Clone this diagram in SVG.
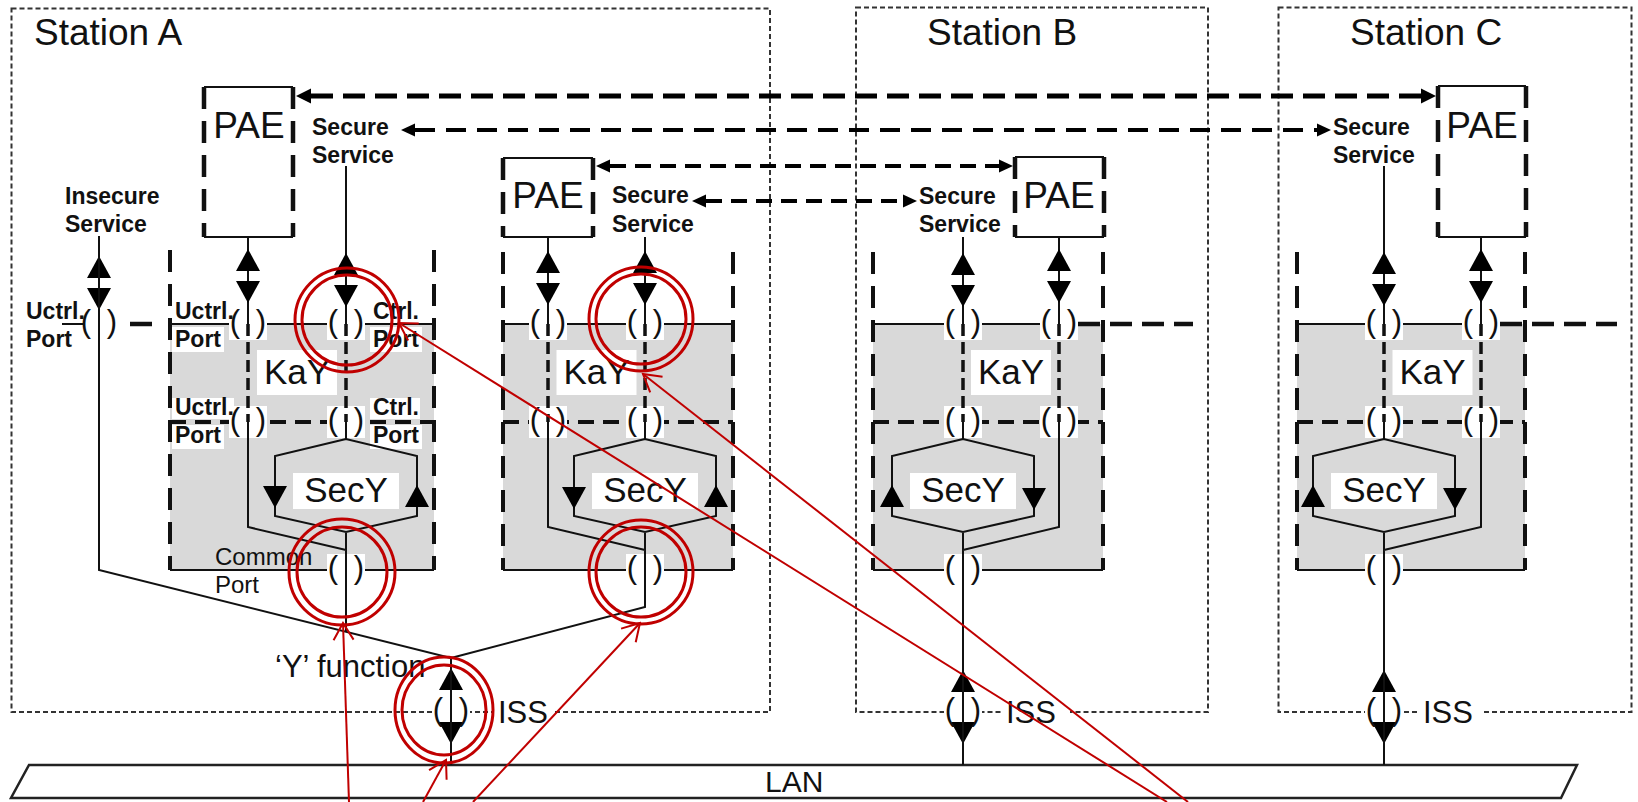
<svg xmlns="http://www.w3.org/2000/svg" xmlns:xlink="http://www.w3.org/1999/xlink" width="1638" height="802" viewBox="0 0 1638 802">
<style>
text{font-family:"Liberation Sans",Arial,sans-serif;fill:#111}
.stn{fill:none;stroke:#333;stroke-width:2;stroke-dasharray:5 3}
.gray{fill:#d9d9d9}
.kb{fill:none;stroke:#111;stroke-width:4;stroke-dasharray:22 12}
.th{fill:none;stroke:#111;stroke-width:2}
.rowd{fill:none;stroke:#111;stroke-width:4;stroke-dasharray:16 9}
.vd{fill:none;stroke:#111;stroke-width:3.5;stroke-dasharray:12 6}
.ps{fill:none;stroke:#111;stroke-width:4.5;stroke-dasharray:22 12}
.od{fill:none;stroke:#111;stroke-width:4.5;stroke-dasharray:22 10}
.wb{fill:#fff}
.big{font-size:37px}
.mid{font-size:35px}
.svc{font-size:23px;font-weight:bold}
.reg{font-size:24px}
.iss{font-size:31px}
.c1{fill:none;stroke:#000;stroke-width:5;stroke-dasharray:22 10;marker-start:url(#fa);marker-end:url(#fa)}
.c2{fill:none;stroke:#000;stroke-width:4;stroke-dasharray:20 11;marker-start:url(#fb);marker-end:url(#fb)}
.c3{fill:none;stroke:#000;stroke-width:4;stroke-dasharray:16 9;marker-start:url(#fb);marker-end:url(#fb)}
.rc{fill:none;stroke:#c00000;stroke-width:3}
.rl{fill:none;stroke:#c00000;stroke-width:2;marker-end:url(#ra)}
</style>
<defs>
<marker id="fa" viewBox="0 -8 16 16" refX="0" refY="0" markerWidth="16" markerHeight="16" markerUnits="userSpaceOnUse" orient="auto-start-reverse"><path d="M0,-7.5 L15,0 L0,7.5 Z" fill="#000"/></marker>
<marker id="fb" viewBox="0 -8 16 16" refX="0" refY="0" markerWidth="16" markerHeight="16" markerUnits="userSpaceOnUse" orient="auto-start-reverse"><path d="M0,-6.5 L14,0 L0,6.5 Z" fill="#000"/></marker>
<marker id="ra" viewBox="-20 -12 22 24" refX="0" refY="0" markerWidth="22" markerHeight="24" markerUnits="userSpaceOnUse" orient="auto"><path d="M-17,-10 L0,0 L-17,10" fill="none" stroke="#c00000" stroke-width="2"/></marker>
<path id="tu" d="M0,0 L-12,22 L12,22 Z" fill="#000"/>
<path id="td" d="M-12,0 L12,0 L0,22 Z" fill="#000"/>
<g id="dbl"><use href="#tu"/><use href="#td" y="32"/></g>
<rect id="pb" x="-19" y="-16" width="38" height="32" fill="#fff"/>
<g id="pp" font-size="31" text-anchor="middle"><text x="-13" y="8">(</text><text x="13" y="8">)</text></g>
</defs>
<rect width="1638" height="802" fill="#fff"/>

<g id="station-a">
<rect class="stn" x="11.5" y="8.5" width="758.5" height="703.5"/>
<text class="big" x="34" y="45">Station A</text>
<use href="#pb" x="451" y="712"/>
<rect class="wb" x="494" y="698" width="60" height="28"/>
<text class="iss" x="498" y="723">ISS</text>
<use href="#tu" x="451" y="668"/><use href="#td" x="451" y="722"/>
<use href="#pp" x="451" y="712"/>
<text class="iss" x="275" y="677">&#8216;Y&#8217; function</text>
<text class="svc" x="65" y="204">Insecure</text>
<text class="svc" x="65" y="232">Service</text>
<use href="#pb" x="99" y="324"/>
<use href="#dbl" x="99" y="256"/>
<use href="#pp" x="99" y="324"/>
<text class="svc" x="26" y="319">Uctrl.</text>
<text class="svc" x="26" y="347">Port</text>
</g>

<g id="station-b">
<rect class="stn" x="856" y="7.5" width="352" height="704.5"/>
<text class="big" x="927" y="45">Station B</text>
<use href="#pb" x="963" y="712"/>
<rect class="wb" x="1002" y="698" width="68" height="28"/>
<text class="iss" x="1006" y="723">ISS</text>
<use href="#tu" x="963" y="670"/><use href="#td" x="963" y="722"/>
<use href="#pp" x="963" y="712"/>
</g>

<g id="station-c">
<rect class="stn" x="1278.5" y="7.5" width="353" height="704.5"/>
<text class="big" x="1350" y="45">Station C</text>
<use href="#pb" x="1384" y="712"/>
<rect class="wb" x="1419" y="698" width="63" height="28"/>
<text class="iss" x="1423" y="723">ISS</text>
<use href="#tu" x="1384" y="670"/><use href="#td" x="1384" y="722"/>
<use href="#pp" x="1384" y="712"/>
</g>

<g id="lan">
<polygon points="29,765 1577,765 1561,798 11,798" fill="#fff" stroke="#222" stroke-width="2.5"/>
<text x="765" y="792" font-size="30">LAN</text>
</g>

<g id="kay-a1">
<rect class="gray" x="170" y="324" width="264" height="246"/>
<path class="kb" d="M170 250V570M434 250V570"/>
<path class="th" d="M170 324H434M170 570H434"/>
<path class="rowd" d="M170 422H434"/>
<rect class="wb" x="172" y="327" width="52" height="25"/>
<rect class="wb" x="370" y="327" width="52" height="25"/>
<rect class="wb" x="172" y="398" width="62" height="21"/>
<rect class="wb" x="172" y="425" width="52" height="24"/>
<rect class="wb" x="370" y="398" width="50" height="21"/>
<rect class="wb" x="370" y="425" width="52" height="24"/>
<use href="#pb" x="248" y="324"/><use href="#pb" x="346" y="324"/>
<use href="#pb" x="248" y="422"/><use href="#pb" x="346" y="422"/>
<use href="#pb" x="346" y="570"/>
<rect class="wb" x="257" y="350" width="80" height="45"/>
<rect class="wb" x="293" y="473" width="106" height="36"/>
<path class="vd" d="M248 324V422M346 324V422"/>
<path class="th" d="M248 237V324M346 166V324M248 422V527L346 550M346 422V439M346 439L275 456V516L346 532L417 516V456ZM346 532V570"/>
<use href="#dbl" x="248" y="249"/><use href="#dbl" x="346" y="253"/>
<use href="#td" x="275" y="486"/><use href="#tu" x="417" y="485"/>
<use href="#pp" x="248" y="324"/><use href="#pp" x="346" y="324"/>
<use href="#pp" x="248" y="422"/><use href="#pp" x="346" y="422"/>
<use href="#pp" x="346" y="570"/>
<text class="mid" x="297" y="384" text-anchor="middle">KaY</text>
<text class="mid" x="346" y="502" text-anchor="middle">SecY</text>
<text class="svc" x="175" y="319">Uctrl.</text><text class="svc" x="175" y="347">Port</text>
<text class="svc" x="373" y="319">Ctrl.</text><text class="svc" x="373" y="347">Port</text>
<text class="svc" x="175" y="415">Uctrl.</text><text class="svc" x="175" y="443">Port</text>
<text class="svc" x="373" y="415">Ctrl.</text><text class="svc" x="373" y="443">Port</text>
<text class="reg" x="215" y="565">Common</text>
<text class="reg" x="215" y="593">Port</text>
</g>

<g id="kay-a2">
<rect class="gray" x="503" y="324" width="230" height="246"/>
<path class="kb" d="M503 252V570M733 252V570"/>
<path class="th" d="M503 324H733M503 570H733"/>
<path class="rowd" d="M503 422H733"/>
<use href="#pb" x="548" y="324"/><use href="#pb" x="645" y="324"/>
<use href="#pb" x="548" y="422"/><use href="#pb" x="645" y="422"/>
<use href="#pb" x="645" y="570"/>
<rect class="wb" x="556.5" y="350" width="80" height="45"/>
<rect class="wb" x="592" y="473" width="106" height="36"/>
<path class="vd" d="M548 324V422M645 324V422"/>
<path class="th" d="M548 237V324M645 237V324M548 422V527L645 550M645 422V439M645 439L574 456V516L645 532L716 516V456ZM645 532V570"/>
<use href="#dbl" x="548" y="251"/><use href="#dbl" x="645" y="251"/>
<use href="#td" x="574" y="487"/><use href="#tu" x="716" y="485"/>
<use href="#pp" x="548" y="324"/><use href="#pp" x="645" y="324"/>
<use href="#pp" x="548" y="422"/><use href="#pp" x="645" y="422"/>
<use href="#pp" x="645" y="570"/>
<text class="mid" x="596.5" y="384" text-anchor="middle">KaY</text>
<text class="mid" x="645" y="502" text-anchor="middle">SecY</text>
</g>

<g id="kay-b">
<rect class="gray" x="873" y="324" width="230" height="246"/>
<path class="kb" d="M873 252V570M1103 252V570"/>
<path class="th" d="M873 324H1059M873 570H1103"/>
<path class="od" d="M1078 324H1193"/>
<path class="rowd" d="M873 422H1103"/>
<use href="#pb" x="963" y="324"/><use href="#pb" x="1059" y="324"/>
<use href="#pb" x="963" y="422"/><use href="#pb" x="1059" y="422"/>
<use href="#pb" x="963" y="570"/>
<rect class="wb" x="971" y="350" width="80" height="45"/>
<rect class="wb" x="910" y="473" width="106" height="36"/>
<path class="vd" d="M963 324V422M1059 324V422"/>
<path class="th" d="M963 237V324M1059 237V324M1059 422V527L963 550M963 422V439M963 439L892 456V516L963 532L1034 516V456ZM963 532V570"/>
<use href="#dbl" x="963" y="253"/><use href="#dbl" x="1059" y="249"/>
<use href="#tu" x="892" y="485"/><use href="#td" x="1034" y="488"/>
<use href="#pp" x="963" y="324"/><use href="#pp" x="1059" y="324"/>
<use href="#pp" x="963" y="422"/><use href="#pp" x="1059" y="422"/>
<use href="#pp" x="963" y="570"/>
<text class="mid" x="1011" y="384" text-anchor="middle">KaY</text>
<text class="mid" x="963" y="502" text-anchor="middle">SecY</text>
</g>

<g id="kay-c">
<rect class="gray" x="1297" y="324" width="228" height="246"/>
<path class="kb" d="M1297 252V570M1525 252V570"/>
<path class="th" d="M1297 324H1481M1297 570H1525"/>
<path class="od" d="M1500 324H1617"/>
<path class="rowd" d="M1297 422H1525"/>
<use href="#pb" x="1384" y="324"/><use href="#pb" x="1481" y="324"/>
<use href="#pb" x="1384" y="422"/><use href="#pb" x="1481" y="422"/>
<use href="#pb" x="1384" y="570"/>
<rect class="wb" x="1392.5" y="350" width="80" height="45"/>
<rect class="wb" x="1331" y="473" width="106" height="36"/>
<path class="vd" d="M1384 324V422M1481 324V422"/>
<path class="th" d="M1384 166V324M1481 237V324M1481 422V527L1384 550M1384 422V439M1384 439L1313 456V516L1384 532L1455 516V456ZM1384 532V570"/>
<use href="#dbl" x="1384" y="252"/><use href="#dbl" x="1481" y="249"/>
<use href="#tu" x="1313" y="485"/><use href="#td" x="1455" y="488"/>
<use href="#pp" x="1384" y="324"/><use href="#pp" x="1481" y="324"/>
<use href="#pp" x="1384" y="422"/><use href="#pp" x="1481" y="422"/>
<use href="#pp" x="1384" y="570"/>
<text class="mid" x="1432.5" y="384" text-anchor="middle">KaY</text>
<text class="mid" x="1384" y="502" text-anchor="middle">SecY</text>
</g>

<g id="pae-a1">
<path class="th" d="M204 87H293M204 237H293"/>
<path class="ps" d="M204 87V237M293 87V237"/>
<text class="big" x="249" y="138" text-anchor="middle">PAE</text>
</g>
<g id="pae-a2">
<path class="th" d="M503 158H593M503 237H593"/>
<path class="ps" d="M503 158V237M593 158V237"/>
<text class="big" x="548" y="208" text-anchor="middle">PAE</text>
</g>
<g id="pae-b">
<path class="th" d="M1015 157H1104M1015 237H1104"/>
<path class="ps" d="M1015 157V237M1104 157V237"/>
<text class="big" x="1059" y="208" text-anchor="middle">PAE</text>
</g>
<g id="pae-c">
<path class="th" d="M1438 86H1526M1438 237H1526"/>
<path class="ps" d="M1438 86V237M1526 86V237"/>
<text class="big" x="1482" y="138" text-anchor="middle">PAE</text>
</g>

<g id="secure-services">
<text class="svc" x="312" y="135">Secure</text><text class="svc" x="312" y="163">Service</text>
<text class="svc" x="612" y="203">Secure</text><text class="svc" x="612" y="232">Service</text>
<text class="svc" x="919" y="204">Secure</text><text class="svc" x="919" y="232">Service</text>
<text class="svc" x="1333" y="135">Secure</text><text class="svc" x="1333" y="163">Service</text>
</g>

<g id="connectors">
<path class="th" d="M99 236V570L451 658V765"/>
<path class="th" d="M346 570V632"/>
<path class="th" d="M645 570V607L451 658"/>
<path class="th" d="M963 570V765M1384 570V765"/>
<path class="th" d="M62 324H84"/>
<path class="od" d="M130 324H153"/>
<path class="c1" d="M311 96H1421"/>
<path class="c2" d="M415 130H1317"/>
<path class="c3" d="M610 166H999"/>
<path class="c3" d="M706 201H903"/>
</g>

<g id="annotations">
<circle class="rc" cx="347" cy="320" r="52"/><circle class="rc" cx="347" cy="320" r="45"/>
<circle class="rc" cx="342" cy="572" r="53"/><circle class="rc" cx="342" cy="572" r="45"/>
<ellipse class="rc" cx="444" cy="710" rx="49" ry="53"/><ellipse class="rc" cx="444" cy="710" rx="42" ry="45"/>
<circle class="rc" cx="641" cy="319" r="52"/><circle class="rc" cx="641" cy="319" r="45"/>
<circle class="rc" cx="641" cy="572" r="52"/><circle class="rc" cx="641" cy="572" r="45"/>
<path class="rl" d="M349 802L343 623"/>
<path class="rl" d="M423 802L446 760"/>
<path class="rl" d="M473 802L640 623"/>
<path class="rl" d="M1167 802L399 323"/>
<path class="rl" d="M1188 802L643 374"/>
</g>
</svg>
